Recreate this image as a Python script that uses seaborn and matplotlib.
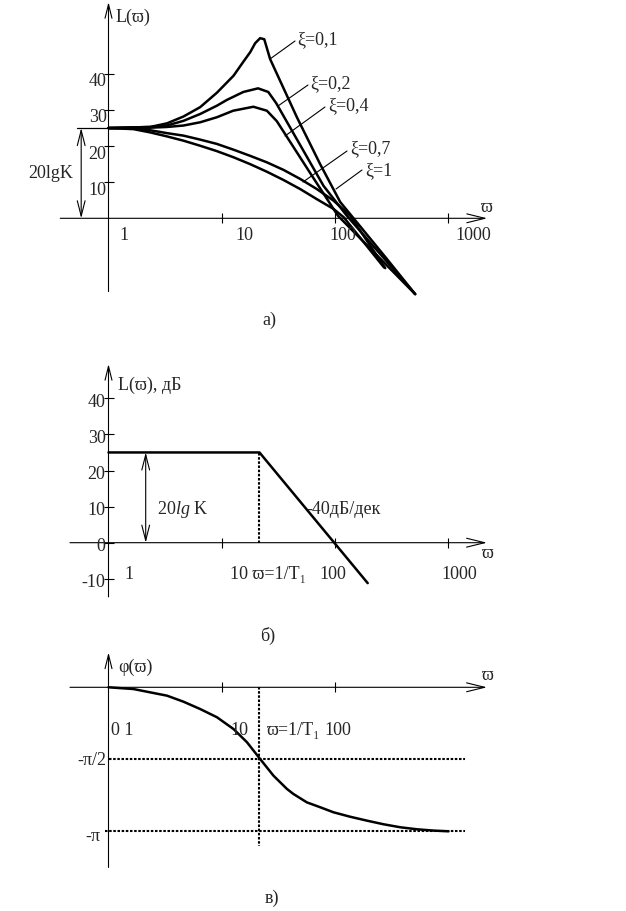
import numpy as np
import pandas as pd
import matplotlib
matplotlib.use("Agg")
import matplotlib.pyplot as plt
from matplotlib.ticker import NullLocator
import seaborn as sns

# ---------------- data ----------------
# panel a: L(w) for several damping ratios
xi_names = ["ξ=0,1", "ξ=0,2", "ξ=0,4", "ξ=0,7", "ξ=1"]

w_xi01 = [1, 2.33, 3.28, 4.59, 6.45, 9.06, 12.7, 15.6, 17.8, 19.7, 21.8, 23.7, 26.7, 46.0, 73.8, 111, 150, 277, 509]
L_xi01 = [25.0, 25.3, 26.3, 28.2, 30.8, 34.8, 39.5, 43.5, 46.0, 48.5, 49.9, 49.6, 44.1, 28.0, 15.0, 4.5, -0.5, -10.7, -21.0]

w_xi02 = [1, 2.33, 3.28, 4.59, 6.45, 9.06, 11.1, 15.5, 20.9, 25.7, 30.2, 79.0, 127, 509]
L_xi02 = [25.0, 25.3, 25.7, 27.0, 28.9, 31.2, 32.8, 35.0, 36.0, 35.0, 31.9, 9.0, 0.7, -21.0]

w_xi04 = [1, 2.33, 3.28, 4.59, 6.45, 9.06, 12.6, 19.0, 25.0, 30.6, 64.5, 106, 509]
L_xi04 = [25.0, 25.1, 25.3, 25.7, 26.6, 28.0, 29.8, 30.9, 29.8, 26.9, 11.1, 0.7, -21.0]

w_xi07 = [1, 1.66, 2.33, 3.27, 4.59, 6.44, 9.06, 12.7, 17.8, 25.0, 35.1, 49.2, 69.0, 96.8, 136, 277]
L_xi07 = [25.0, 24.9, 24.4, 23.6, 22.9, 21.8, 20.6, 19.0, 17.3, 15.5, 13.4, 10.9, 8.1, 4.9, 0.7, -13.8]

w_xi1 = [1, 1.66, 2.33, 3.27, 4.59, 6.44, 9.06, 12.7, 17.8, 25.0, 35.1, 49.2, 69.0, 96.8, 119, 270]
L_xi1 = [25.0, 24.7, 23.8, 22.7, 21.5, 20.1, 18.6, 16.9, 15.0, 12.9, 10.6, 8.1, 5.3, 2.6, 0.3, -13.6]

K_dB = 25.0                      # 20 lg K

# panel b: asymptotic L(w)
w_asym = [1, 21.5, 194]
L_asym = [25.0, 25.0, -11.2]

# panel c: phase, in units of pi
w_phase = [1, 1.66, 2.33, 3.28, 4.59, 6.45, 9.06, 12.7, 16.7, 21.8, 28.6, 37.6, 42.9, 56.3,
           73.9, 96.8, 136, 191, 267, 376, 527, 738, 1002]
phi_pi = [0, -0.012, -0.035, -0.058, -0.10, -0.151, -0.208, -0.29, -0.382, -0.498, -0.614,
          -0.706, -0.741, -0.799, -0.833, -0.868, -0.899, -0.926, -0.951, -0.972, -0.986,
          -0.995, -1.0]

x_ticks_ab = [10, 100, 1000]
x_ticks_c = [10, 100]
y_ticks_a = [10, 20, 30, 40]
y_ticks_b = [-10, 0, 10, 20, 30, 40]

# ---------------- style ----------------
sns.set_style("white")
plt.rcParams["font.family"] = ["Liberation Serif", "DejaVu Serif"]
plt.rcParams["mathtext.fontset"] = "custom"
plt.rcParams["mathtext.rm"] = "Liberation Serif"
plt.rcParams["mathtext.it"] = "Liberation Serif:italic"
FS = 13
plt.rcParams["font.size"] = FS
LW = 1.8

W, H = 626, 912
X0, DEC = 108.5, 113.3          # pixel of w=1, pixels per decade
fig = plt.figure(figsize=(W / 100, H / 100), dpi=100)


def make_ax(py0, py1, y0py, unit):
    ax = fig.add_axes([0, 1 - py1 / H, 1, (py1 - py0) / H])
    ax.set_xscale("log")
    for s in ax.spines.values():
        s.set_visible(False)
    ax.spines["left"].set_position(("data", 1))
    ax.spines["bottom"].set_position(("data", 0))
    ax.patch.set_alpha(0)
    ax.grid(False)
    lims = ((10 ** ((0 - X0) / DEC), 10 ** ((W - X0) / DEC)),
            ((y0py - py1) / unit, (y0py - py0) / unit))
    return ax, lims


def finish(ax, lims, xt, yt):
    ax.set_xlim(*lims[0])
    ax.set_ylim(*lims[1])
    ax.set_xticks(xt)
    ax.set_yticks(yt)
    ax.xaxis.set_minor_locator(NullLocator())
    ax.yaxis.set_minor_locator(NullLocator())
    ax.tick_params(direction="inout", length=7, width=0.8, color="k",
                   labelbottom=False, labelleft=False, bottom=True, left=True)


def axis_arrows(ax, x_from, x_to, y_from, y_to):
    ax.annotate("", xy=(x_to, 0), xytext=(x_from, 0),
                arrowprops=dict(arrowstyle="->,head_length=1.3,head_width=0.32", lw=0.8,
                                color="k", shrinkA=0, shrinkB=0, mutation_scale=10))
    ax.annotate("", xy=(1, y_to), xytext=(1, y_from),
                arrowprops=dict(arrowstyle="->,head_length=1.0,head_width=0.25", lw=0.8,
                                color="k", shrinkA=0, shrinkB=0, mutation_scale=10))


def tlabel(ax, x, y, s, dx, dy, ha="center", va="center", **kw):
    ax.annotate(s, xy=(x, y), xytext=(dx, dy), textcoords="offset pixels",
                ha=ha, va=va, fontsize=FS, **kw)


def ftext(px, py, s, ha="left", va="center", **kw):
    fig.text(px / W, 1 - py / H, s, ha=ha, va=va, fontsize=FS, **kw)


def leader(p0, p1):
    fig.add_artist(plt.Line2D([p0[0] / W, p1[0] / W], [1 - p0[1] / H, 1 - p1[1] / H],
                              transform=fig.transFigure, color="k", lw=0.8))


def dbl_arrow(ax, x, y0, y1):
    ax.annotate("", xy=(x, y1), xytext=(x, y0),
                arrowprops=dict(arrowstyle="<->,head_length=1.1,head_width=0.28", lw=0.8,
                                color="k", shrinkA=0, shrinkB=0, mutation_scale=10))


# ================= panel a =================
axA, limA = make_ax(0, 330, 219.3, 3.61)
frames = []
for name, w, L in zip(xi_names, [w_xi01, w_xi02, w_xi04, w_xi07, w_xi1],
                      [L_xi01, L_xi02, L_xi04, L_xi07, L_xi1]):
    frames.append(pd.DataFrame({"w": w, "L": L, "xi": name}))
dfA = pd.concat(frames, ignore_index=True)
sns.lineplot(data=dfA, x="w", y="L", hue="xi", palette=["k"] * 5, sort=False,
             estimator=None, legend=False, linewidth=LW, ax=axA)
axA.set_xlabel("")
axA.set_ylabel("")
finish(axA, limA, x_ticks_ab, y_ticks_a)
axis_arrows(axA, 0.375, 2200, -20.3, 59.9)
axA.plot([0.53, 1], [K_dB, K_dB], color="k", lw=0.9)
dbl_arrow(axA, 0.574, 0, K_dB)
tlabel(axA, 1, 0, "1", 15, -16)
tlabel(axA, 10, 0, "10", 23, -16)
tlabel(axA, 100, 0, "100", 8, -16)
tlabel(axA, 1000, 0, "1000", 25, -16)
for v in y_ticks_a:
    tlabel(axA, 1, v, str(v), -2, -7, ha="right")
ftext(116, 17, "L(ϖ)")
ftext(487, 208, "ϖ", ha="center")
ftext(28, 173, "20lgK")
label_pos = [(297, 40), (310, 84), (328, 106), (350, 149), (365, 171)]
leaders = [((270, 60), (295, 42)), ((278, 107), (308, 86)), ((285, 137), (325, 108)),
           ((303, 183), (347, 152)), ((336, 190), (362, 171))]
for name, (px, py), (p0, p1) in zip(xi_names, label_pos, leaders):
    ftext(px, py, name)
    leader(p0, p1)
ftext(269, 320, "а)", ha="center")

# ================= panel b =================
axB, limB = make_ax(330, 625, 543.7, 3.61)
sns.lineplot(x=w_asym, y=L_asym, color="k", linewidth=LW, sort=False,
             estimator=None, ax=axB)
finish(axB, limB, x_ticks_ab, y_ticks_b)
axis_arrows(axB, 0.457, 2190, -15.0, 49.5)
axB.plot([w_asym[1], w_asym[1]], [0, L_asym[1]], color="k", lw=1.5,
         linestyle=(0, (1.2, 0.8)))
dbl_arrow(axB, 2.13, 0, K_dB)
for v in y_ticks_b:
    tlabel(axB, 1, v, str(v), -3, -3, ha="right")
tlabel(axB, 1, 0, "1", 20, -31)
tlabel(axB, 10, 0, "10 ϖ=1/T₁", 8, -31, ha="left")
tlabel(axB, 100, 0, "100", -2, -31)
tlabel(axB, 1000, 0, "1000", 11, -31)
ftext(118, 385, "L(ϖ), дБ")
ftext(488, 553, "ϖ", ha="center")
ftext(157, 510, r"20$\mathit{lg}$ K")
ftext(306, 510, "-40дБ/дек")
ftext(268, 636, "б)", ha="center")

# ================= panel c =================
axC, limC = make_ax(625, 912, 688.3, 144 / np.pi)
sns.lineplot(x=w_phase, y=np.array(phi_pi) * np.pi, color="k", linewidth=LW,
             sort=False, estimator=None, ax=axC)
finish(axC, limC, x_ticks_c, [])
axis_arrows(axC, 0.457, 2190, -3.93, 0.76)
dash = dict(color="k", lw=1.5, linestyle=(0, (1.2, 0.8)))
axC.plot([1, 1400], [-np.pi / 2, -np.pi / 2], **dash)
axC.plot([0.93, 1400], [-np.pi, -np.pi], **dash)
axC.plot([w_asym[1], w_asym[1]], [0, -1.1 * np.pi], **dash)
tlabel(axC, 1, 0, "0 1", 2, -42, ha="left")
tlabel(axC, 10, 0, "10", 18, -42)
tlabel(axC, w_asym[1], 0, "ϖ=1/T₁", 7, -42, ha="left")
tlabel(axC, 100, 0, "100", 3, -42)
tlabel(axC, 1, -np.pi / 2, "-π/2", -2, 0, ha="right")
tlabel(axC, 1, -np.pi, "-π", -8, -4, ha="right")
ftext(118, 667, "φ(ϖ)")
ftext(488, 676, "ϖ", ha="center")
ftext(272, 898, "в)", ha="center")

fig.savefig("out.png", dpi=100)
